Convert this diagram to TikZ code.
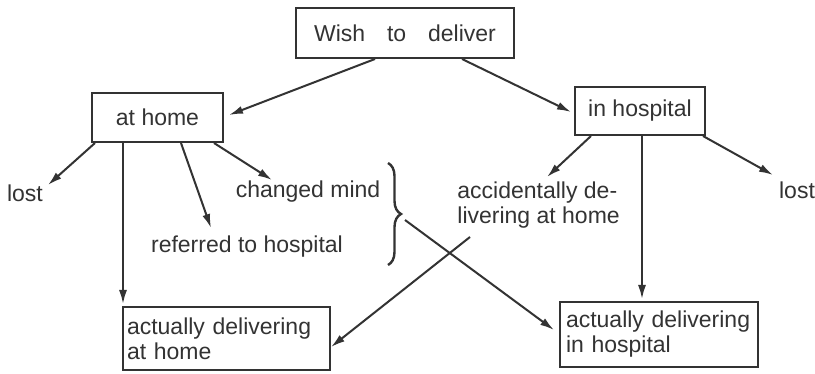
\documentclass[tikz,border=0pt]{standalone}
\usepackage{fontspec}
\setmainfont{Liberation Sans}
\usetikzlibrary{arrows.meta,calc,decorations.pathreplacing}
\definecolor{ink}{HTML}{333333}
\begin{document}
\begin{tikzpicture}[x=0.5pt,y=-0.5pt,
  every node/.style={font=\fontsize{11.5}{12.5}\selectfont, text=ink},
  box/.style={draw=ink, line width=1pt, rectangle, inner sep=0pt},
  lbox/.style={draw=ink, line width=1pt, rectangle, align=left, inner ysep=0pt},
  lbl/.style={inner sep=1.5pt},
  conn/.style={draw=ink, line width=1pt, -{Latex[length=7pt,width=4pt]}}
]
\fill[white] (0,0) rectangle (815,374);
\useasboundingbox (0,0) rectangle (815,374);

% boxes
\node[box, minimum width=109pt, minimum height=25pt] (wish) at (405,33) {Wish\hskip 0.95em to\hskip 0.95em deliver};
\node[box, minimum width=65.5pt, minimum height=24.5pt] (athome) at (157.5,117.5) {at home};
\node[box, minimum width=65pt, minimum height=24pt] (inhosp) at (640,111) {in hospital};
\node[lbox, minimum width=103.5pt, minimum height=31.5pt, inner xsep=2pt, text width=99.5pt] (adhome) at (226.5,338.5) {actually delivering\\at home};
\node[lbox, minimum width=99pt, minimum height=32.5pt, inner xsep=3pt, text width=93pt] (adhosp) at (659,334.5) {actually delivering\\in hospital};

% labels
\node[lbl] (lostL) at (25,193) {lost};
\node[lbl] (referred) at (247,247) {referred to hospital};
\node[lbl] (changed) at (308,192) {changed mind};
\node[lbl, anchor=west, align=left, inner sep=0pt] (acc) at (457,205) {accidentally de-\\livering at home};
\node[lbl] (lostR) at (797,190) {lost};

% brace
\draw[ink, line width=1.2pt, decorate, decoration={brace, amplitude=6.5pt}] (388,163) -- (388,265);
\coordinate (bt) at (398,214);

% connectors
\draw[conn] ($(wish.south)+(-30,0)$) -- ($(athome.east)+(5,-2.5)$);
\draw[conn] ($(wish.south)+(57,0)$) -- ($(inhosp.west)+(-3,1)$);
\draw[conn] ($(athome.south west)+(4,0)$) -- ($(lostL.center)+(23,-8)$);
\draw[conn] ($(athome.south west)+(32,0)$) -- ($(adhome.north west)+(1,-2)$);
\draw[conn] ($(athome.south west)+(90,0)$) -- ($(referred.center)+(-36,-19)$);
\draw[conn] ($(athome.south west)+(123,0)$) -- ($(changed.center)+(-36,-12)$);
\draw[conn] ($(inhosp.south west)+(17,0)$) -- ($(acc.west)+(90,-28)$);
\draw[conn] ($(inhosp.south east)+(-3,0)$) -- ($(lostR.center)+(-24,-15)$);
\draw[conn] ($(inhosp.south west)+(68,0)$) -- ($(adhosp.north west)+(83,-2)$);
\draw[conn] ($(bt)+(7,6)$) -- ($(adhosp.west)+(-5,-4.5)$);
\draw[conn] ($(acc.west)+(13,32)$) -- ($(adhome.east)+(0,8.5)$);
\end{tikzpicture}
\end{document}
